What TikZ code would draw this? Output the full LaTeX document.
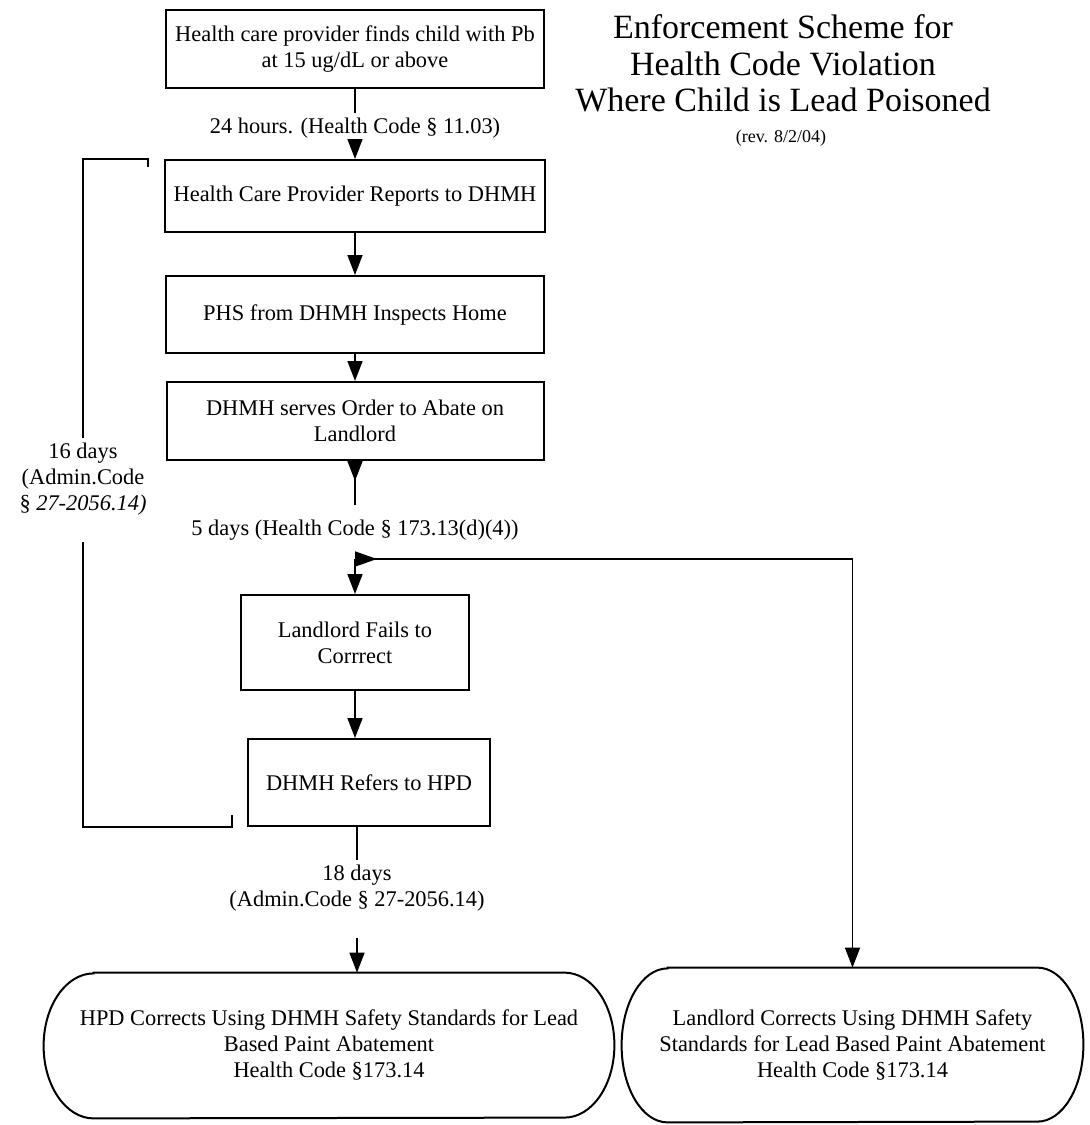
\documentclass[tikz,border=0pt]{standalone}
\usepackage{fontspec}
\setmainfont{Liberation Serif}
\usepackage{tikz}
\usetikzlibrary{arrows.meta}
\tikzset{
  box/.style = {draw, line width = 1pt, align = center, inner sep = 0},
  plate/.style = {align = center, inner sep = 0},
  note/.style = {align = center, inner sep = 2pt},
  link/.style = {line width = 0.8pt},
  tip/.style = {link, -{Triangle[length = 10pt, width = 7.5pt]}},
  backtip/.style = {link, {Triangle[reversed, length = 10pt, width = 7.5pt]}-},
  rim/.style = {line width = 1pt}
}

\begin{document}
\begin{tikzpicture}[x = 0.5pt, y = 0.5pt, font = \fontsize{11.2}{13}\selectfont]
    \useasboundingbox (0, 0) rectangle (1089, -1125);

    \node [align = center, font = \fontsize{17}{18.3}\selectfont] (title) at (783, -63.5)
      {Enforcement Scheme for\\ Health Code Violation\\ Where Child is Lead Poisoned};
    \node [font = \fontsize{9}{10}\selectfont] (rev) at (781, -138) {(rev. 8/2/04)};

    \node [box, minimum width = 189pt, minimum height = 39pt] (find) at (355, -49)
      {Health care provider finds child with Pb\\ at 15 ug/dL or above};
    \node [note] (lab24) at (355, -128) {24 hours. (Health Code § 11.03)};
    \node [box, minimum width = 190pt, minimum height = 36pt] (report) at (355, -196)
      {Health Care Provider Reports to DHMH};
    \node [box, minimum width = 189pt, minimum height = 38.5pt] (inspect) at (355, -314.5)
      {PHS from DHMH Inspects Home};
    \node [box, minimum width = 188.5pt, minimum height = 39pt] (order) at (355, -421)
      {DHMH serves Order to Abate on\\ Landlord};
    \node [note, inner sep = 7pt] (lab5) at (355, -530) {5 days (Health Code § 173.13(d)(4))};
    \coordinate (split) at (355, -559);
    \node [box, minimum width = 114pt, minimum height = 47.5pt] (fails) at (355, -642.5)
      {Landlord Fails to\\ Corrrect};
    \node [box, minimum width = 121pt, minimum height = 43.5pt] (refers) at (369, -782.5)
      {DHMH Refers to HPD};
    \node [note] (lab18) at (357, -888) {18 days\\ (Admin.Code § 27-2056.14)};
    \coordinate (gap18) at (357, -938);

    \node [plate, minimum width = 285pt, minimum height = 72.5pt] (hpdfix) at (329, -1045.5)
      {HPD Corrects Using DHMH Safety Standards for Lead\\ Based Paint Abatement\\ Health Code §173.14};
    \node [plate, minimum width = 230.5pt, minimum height = 77pt] (llfix) at (852.5, -1045)
      {Landlord Corrects Using DHMH Safety\\ Standards for Lead Based Paint Abatement\\ Health Code §173.14};

    % oval outlines
    \draw [rim] ([xshift = 25pt]hpdfix.north west) -- ([xshift = -25pt]hpdfix.north east)
      arc [start angle = 90, end angle = -90, x radius = 25pt, y radius = 36.25pt]
      -- ([xshift = 25pt]hpdfix.south west)
      arc [start angle = 270, end angle = 90, x radius = 25pt, y radius = 36.25pt] -- cycle;
    \draw [rim] ([xshift = 23pt]llfix.north west) -- ([xshift = -23pt]llfix.north east)
      arc [start angle = 90, end angle = -90, x radius = 23pt, y radius = 38.5pt]
      -- ([xshift = 23pt]llfix.south west)
      arc [start angle = 270, end angle = 90, x radius = 23pt, y radius = 38.5pt] -- cycle;

    \draw [link] (find) -- (lab24);
    \draw [tip] (lab24) -- (report);
    \draw [tip] (report) -- (inspect);
    \draw [tip] (inspect) -- (order);
    \draw [backtip] (order) -- (lab5);
    \draw [tip] (split) -- (fails);
    \draw [link, {Triangle[reversed, length = 11pt, width = 7.5pt]}-{Triangle[length = 10pt, width = 7.5pt]}]
      (split) -| (llfix);
    \draw [tip] (fails) -- (fails |- refers.north);
    \draw [link] (refers.south -| lab18) -- (lab18);
    \draw [tip] (gap18) -- (gap18 |- hpdfix.north);

    % 16 day bracket
    \node [note] (lab16) at (83, -479) {16 days\\ (Admin.Code\\ § \textit{27-2056.14)}};
    \coordinate (brtop) at (148, -167);
    \coordinate (brlow) at (83, -542);
    \coordinate (brend) at (232, -815);
    \draw [link] (lab16.north) |- (brtop |- report.north) -- (brtop);
    \draw [link] (brlow) |- (brend |- refers.south) -- (brend);
\end{tikzpicture}
\end{document}
